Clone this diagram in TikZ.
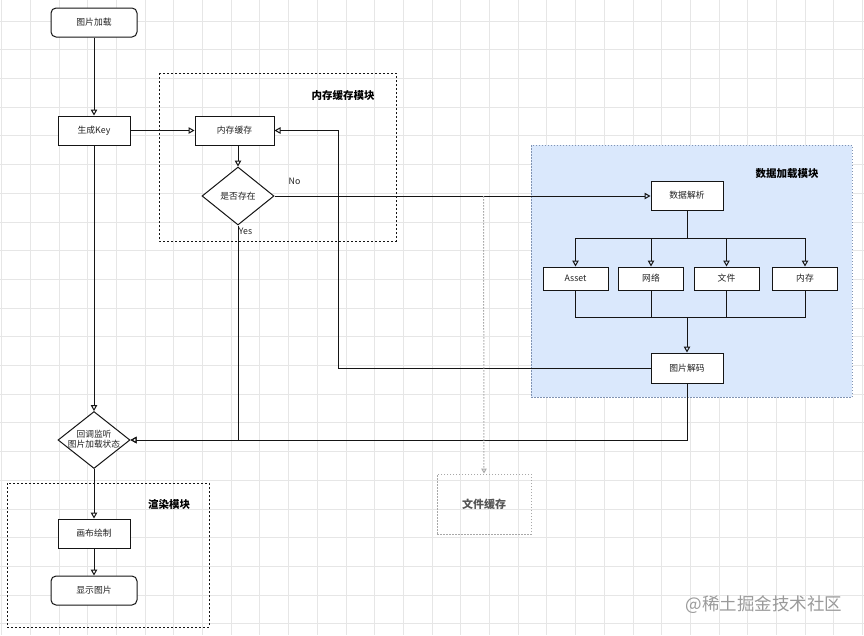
\documentclass[tikz,border=0pt]{standalone}
\usepackage{fontspec}
\setmainfont{Noto Sans CJK SC}
\usetikzlibrary{arrows.meta,shapes.geometric,calc}
\definecolor{gridc}{HTML}{E6E6E6}
\definecolor{bluefill}{HTML}{DAE8FC}
\definecolor{blueline}{HTML}{8093B3}
\definecolor{linec}{HTML}{151515}
\definecolor{txt}{HTML}{222222}
\definecolor{fcgray}{HTML}{A8A8A8}
\definecolor{fctext}{HTML}{555555}
\definecolor{wmark}{HTML}{9A9A9A}
\tikzset{
  box/.style={draw=linec, line width=1pt, fill=white, minimum width=72pt, minimum height=29pt, inner sep=0pt, font=\fontsize{8.8}{11}\selectfont, text=txt},
  rbox/.style={box, rounded corners=5pt, minimum width=86pt},
  sbox/.style={box, minimum width=65pt, minimum height=23pt},
  dia/.style={draw=linec, line width=1pt, fill=white, shape=diamond, inner sep=0pt, shape aspect=1.26, font=\fontsize{8.8}{11}\selectfont, text=txt, align=center},
  arr/.style={draw=linec, line width=1pt, -{Triangle[open,length=6pt,width=6.5pt]}},
  ln/.style={draw=linec, line width=1pt},
  grp/.style={draw=linec, line width=1pt, dash pattern=on 2pt off 2pt},
  grptitle/.style={font=\bfseries\fontsize{10.5}{12}\selectfont, text=black},
  lbl/.style={font=\fontsize{8.8}{11}\selectfont, text=txt, inner sep=0pt},
}
\begin{document}
\begin{tikzpicture}[x=1pt,y=-1pt]
\useasboundingbox (0,0) rectangle (864,635);
\fill[white] (0,0) rectangle (864,635);
% grid
\foreach \k in {0,...,30} {
  \draw[gridc, line width=0.8pt] ({1.5+28.7*\k},0) -- ({1.5+28.7*\k},635);
}
\foreach \k in {0,...,22} {
  \draw[gridc, line width=0.8pt] (0,{21+28.7*\k}) -- (864,{21+28.7*\k});
}
% groups
\draw[grp] (159,73) rectangle (396,241);
\draw[fill=bluefill, draw=blueline, line width=1pt, dash pattern=on 1.5pt off 1.5pt] (531,145) rectangle (852,397);
\draw[grp] (7,483) rectangle (209,627);
\node[grptitle] (t1) at (343,95) {内存缓存模块};
\node[grptitle] (t2) at (787,173.5) {数据加载模块};
\node[grptitle] (t3) at (169,504.5) {渲染模块};
% nodes
\node[rbox] (load) at (94,22.5) {图片加载};
\node[box] (key) at (94,130.5) {生成Key};
\node[box, minimum width=79pt] (mem) at (234.5,130.5) {内存缓存};
\node[dia, minimum width=72pt, minimum height=58pt] (exist) at (238,196) {是否存在};
\node[box] (parse) at (687,195.5) {数据解析};
\node[sbox] (asset) at (575.5,278.5) {Asset};
\node[sbox] (net) at (651,278.5) {网络};
\node[sbox] (file) at (726.5,278.5) {文件};
\node[sbox] (msrc) at (805,278.5) {内存};
\node[box, minimum height=30pt] (decode) at (687,368) {图片解码};
\node[dia, minimum width=72pt, minimum height=57pt] (cb) at (94,440) {};
\node[lbl, align=center, font=\fontsize{8.7}{10.5}\selectfont] (cbtext) at (94,439) {回调监听\\图片加载状态};
\node[box] (canvas) at (94,533.5) {画布绘制};
\node[rbox] (show) at (94,590.5) {显示图片};
\node[draw=fcgray, line width=1pt, dash pattern=on 1.5pt off 1.5pt, minimum width=94pt, minimum height=60pt, inner sep=0pt, font=\bfseries\fontsize{11}{13}\selectfont, text=fctext] (fcache) at (484,504) {文件缓存};
\node[lbl] (no) at (294.5,181) {No};
\node[lbl] (yes) at (245.5,231) {Yes};
\node[font=\fontsize{17.5}{20}\selectfont, text=wmark, inner sep=0pt] (wm) at (764,605) {@稀土掘金技术社区};
% coordinates
\coordinate (split) at (687,238.5);
\coordinate (merge) at (687,317.5);
\coordinate (tap) at (483.5,196);
\coordinate (up) at (338.5,368);
% connectors
\draw[arr] (load) -- (key);
\draw[arr] (key) -- (mem);
\draw[arr] (exist.north |- mem.south) -- (exist.north);
\draw[arr] (exist.east) -- (exist.east -| parse.west);
\draw[arr] (exist.south) |- (cb.east);
\draw[arr] (key) -- (cb.north);
\draw[ln] (parse.south) -- (split);
\draw[arr] (split) -| (asset.north);
\draw[arr] (split) -| (net.north);
\draw[arr] (split) -| (file.north);
\draw[arr] (split) -| (msrc.north);
\draw[ln] (asset.south) |- (merge);
\draw[ln] (net.south) |- (merge);
\draw[ln] (file.south) |- (merge);
\draw[ln] (msrc.south) |- (merge);
\draw[arr] (merge) -- (decode.north);
\draw[arr] (decode.west) -- (up) |- (mem.east);
\draw[arr] (decode.south) |- (cb.east);
\draw[arr] (cb.south) -- (canvas.north);
\draw[arr] (canvas) -- (show);
\draw[draw=fcgray, line width=1pt, dash pattern=on 1.5pt off 1.5pt, -{Triangle[open,length=5pt,width=5.5pt]}] (tap) -- (fcache.north);
\end{tikzpicture}
\end{document}
